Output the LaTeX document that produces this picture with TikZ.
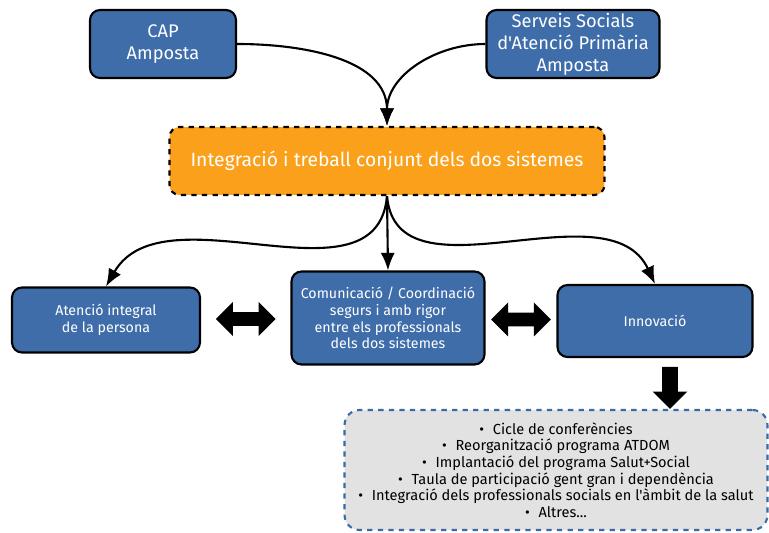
\documentclass[tikz,border=0pt]{standalone}
\usepackage{fontspec}
\setmainfont{Fira Sans}[Ligatures=TeXOff]
\usetikzlibrary{arrows.meta,shapes.arrows,calc}
\definecolor{BoxClr}{RGB}{62,109,170}
\definecolor{MainClr}{RGB}{250,160,26}
\definecolor{ListClr}{RGB}{226,226,226}
\definecolor{DashClr}{RGB}{58,106,168}

\tikzset{
  box/.style={draw=black,line width=1.2pt,rounded corners=0.2cm,fill=BoxClr,
    text=white,align=center,inner sep=0pt},
  bigtxt/.style={font=\fontsize{10.4}{12.5}\selectfont},
  smalltxt/.style={font=\fontsize{8.1}{9.6}\selectfont},
  conn/.style={line width=1.2pt,-{Latex[length=10pt,width=8pt]}},
  block/.style={fill=black,inner sep=0.13cm,minimum height=1.2cm,minimum width=0.68cm}
}

\begin{document}
\begin{tikzpicture}[x=0.02cm,y=-0.02cm]
\useasboundingbox (0,0) rectangle (769,533);

% top row
\node[box,bigtxt,minimum width=2.92cm,minimum height=1.36cm] (cap) at (163,44) {CAP\\Amposta};
\node[box,bigtxt,minimum width=3.46cm,minimum height=1.36cm] (serveis) at (573,44)
  {Serveis Socials\\d'Atenció Primària\\Amposta};

\node[box,fill=MainClr,dashed,minimum width=8.7cm,minimum height=1.36cm,
  font=\fontsize{11}{13}\selectfont] (integ) at (387,161)
  {Integració i treball conjunt dels dos sistemes};

% middle row
\node[box,smalltxt,minimum width=3.76cm,minimum height=1.3cm] (atencio) at (106,320)
  {Atenció integral\\de la persona};
\node[box,smalltxt,minimum width=3.86cm,minimum height=1.86cm] (comunic) at (388,318)
  {Comunicació / Coordinació\\segurs i amb rigor\\entre els professionals\\dels dos sistemes};
\node[box,smalltxt,minimum width=3.9cm,minimum height=1.44cm] (innov) at (655,321) {Innovació};

% list
\node[draw=DashClr,dashed,line width=1.2pt,rounded corners=0.3cm,fill=ListClr,align=center,
  inner sep=0pt,minimum width=8.46cm,minimum height=2.4cm,font=\fontsize{8.3}{9.4}\selectfont] (llista) at (556,470)
  {\textbullet\hspace{0.6em}Cicle de conferències\\
   \textbullet\hspace{0.6em}Reorganització programa ATDOM\\
   \textbullet\hspace{0.6em}Implantació del programa Salut+Social\\
   \textbullet\hspace{0.6em}Taula de participació gent gran i dependència\\
   \textbullet\hspace{0.6em}Integració dels professionals socials en l'àmbit de la salut\\
   \textbullet\hspace{0.6em}Altres...};

% block arrows
\node[block,double arrow,double arrow head extend=0.2cm] (dbl1) at ($(atencio.east)!0.5!(comunic.west)$) {};
\node[block,double arrow,double arrow head extend=0.2cm] (dbl2) at ($(comunic.east)!0.5!(innov.west)$) {};
\node[block,single arrow,single arrow head extend=0.19cm,minimum height=0.84cm,minimum width=0.68cm,
  shape border rotate=270,inner sep=0.15cm] (baixa) at (670,384) {};

% connectors
\draw[conn] (cap.east) to[out=0,in=90] (integ.north);
\draw[conn] (serveis.west) to[out=180,in=90] (integ.north);
\draw[conn] (integ.south) to[out=-95,in=60] (atencio.north);
\draw[conn] (integ.south) -- (comunic.north);
\draw[conn] (integ.south) to[out=-85,in=115] (innov.north);

\end{tikzpicture}
\end{document}
